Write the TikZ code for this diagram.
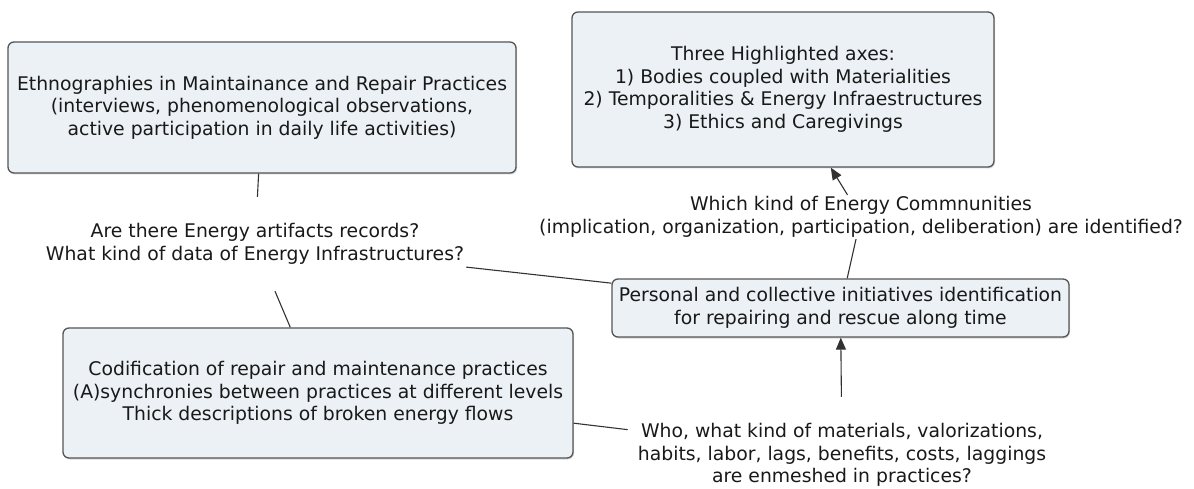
\documentclass[tikz,border=0pt]{standalone}
\usepackage{fontspec}
\setmainfont{DejaVu Sans}
\usetikzlibrary{arrows.meta,shadows}

\definecolor{boxfill}{RGB}{235,241,244}
\definecolor{boxline}{RGB}{85,85,85}
\definecolor{inkline}{RGB}{50,50,50}
\definecolor{inktext}{RGB}{25,25,25}

\begin{document}
\begin{tikzpicture}[x=1pt,y=-1pt,
  txt/.style={font=\fontsize{18.8}{22.6}\selectfont, text=inktext, align=center},
  concept/.style={txt, draw=boxline, line width=1.3pt, fill=boxfill,
    rounded corners=6pt, inner sep=0pt,
    drop shadow={shadow xshift=1pt, shadow yshift=-1.5pt, opacity=0.3}},
  linkphrase/.style={txt, inner xsep=2pt, inner ysep=1.5pt},
  link/.style={draw=inkline, line width=1.1pt},
  linkarrow/.style={link, -{Triangle[length=12pt,width=10pt]}}
]
\useasboundingbox (0,0) rectangle (1194,489);

% concepts
\node[concept, minimum width=508pt, minimum height=131pt] (ethno) at (262,107.5)
  {Ethnographies in Maintainance and Repair Practices\\
   (interviews, phenomenological observations,\\
   active participation in daily life activities)};

\node[concept, minimum width=422pt, minimum height=155pt] (axes) at (783,89.5)
  {Three Highlighted axes:\\
   1) Bodies coupled with Materialities\\
   2) Temporalities \& Energy Infraestructures\\
   3) Ethics and Caregivings};

\node[concept, minimum width=457pt, minimum height=58pt] (initiatives) at (840.5,308)
  {Personal and collective initiatives identification\\
   for repairing and rescue along time};

\node[concept, minimum width=510pt, minimum height=130pt] (codif) at (318,393)
  {Codification of repair and maintenance practices\\
   (A)synchronies between practices at different levels\\
   Thick descriptions of broken energy flows};

% linking phrases
\node[linkphrase, minimum height=94pt] (records) at (255,244)
  {Are there Energy artifacts records?\\
   What kind of data of Energy Infrastructures?};

\node[linkphrase] (communities) at (861,217)
  {Which kind of Energy Commnunities\\
   (implication, organization, participation, deliberation) are identified?};

\node[linkphrase, inner xsep=10pt, minimum height=116pt] (enmeshed) at (842,455)
  {Who, what kind of materials, valorizations,\\
   habits, labor, lags, benefits, costs, laggings\\
   are enmeshed in practices?};

% connectors
\draw[link] (ethno) -- (records);
\draw[link] (records) -- (codif);
\draw[link] (records) -- (initiatives);
\draw[link] (codif) -- (enmeshed);
\draw[linkarrow] (enmeshed) -- (initiatives);
\draw[link] (initiatives) -- (communities);
\draw[linkarrow] (communities) -- (axes);
\end{tikzpicture}
\end{document}
